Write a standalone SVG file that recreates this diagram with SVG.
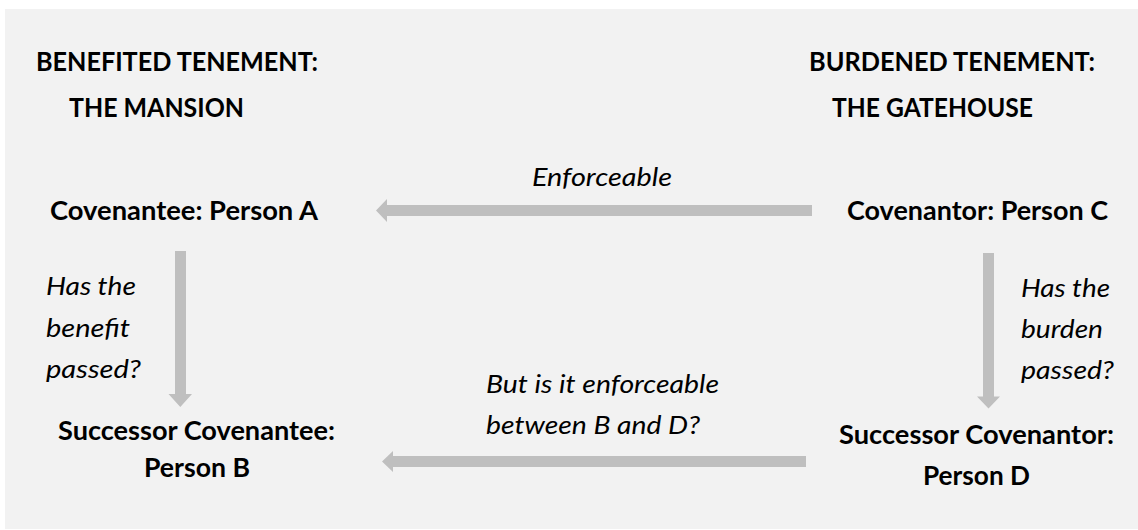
<svg xmlns="http://www.w3.org/2000/svg" width="1138" height="530" viewBox="0 0 1138 530">
<style>
.b{font-family:Lato,"Open Sans","Liberation Sans",sans-serif;font-weight:700;font-size:26px;fill:#000}
.i{font-family:Lato,"Open Sans","Liberation Sans",sans-serif;font-style:italic;font-size:26px;fill:#000}
.arr{fill:#bfbfbf}
</style>
<rect x="0" y="0" width="1138" height="530" fill="#ffffff"/>
<rect x="5" y="9" width="1133" height="520" fill="#f2f2f2"/>
<g id="benefited-tenement">
<text class="b" x="36" y="70.5" textLength="282" lengthAdjust="spacingAndGlyphs">BENEFITED TENEMENT:</text>
<text class="b" x="69" y="116.5" textLength="175" lengthAdjust="spacingAndGlyphs">THE MANSION</text>
</g>
<g id="burdened-tenement">
<text class="b" x="809" y="70.5" textLength="286" lengthAdjust="spacingAndGlyphs">BURDENED TENEMENT:</text>
<text class="b" x="832" y="116.5" textLength="201" lengthAdjust="spacingAndGlyphs">THE GATEHOUSE</text>
</g>
<g id="person-a">
<text class="b" x="50" y="220" textLength="268" lengthAdjust="spacingAndGlyphs">Covenantee: Person A</text>
</g>
<g id="person-c">
<text class="b" x="847" y="220" textLength="261" lengthAdjust="spacingAndGlyphs">Covenantor: Person C</text>
</g>
<g id="person-b">
<text class="b" x="58" y="440" textLength="277" lengthAdjust="spacingAndGlyphs">Successor Covenantee:</text>
<text class="b" x="144" y="477" textLength="106" lengthAdjust="spacingAndGlyphs">Person B</text>
</g>
<g id="person-d">
<text class="b" x="839" y="444" textLength="275" lengthAdjust="spacingAndGlyphs">Successor Covenantor:</text>
<text class="b" x="923" y="485" textLength="107" lengthAdjust="spacingAndGlyphs">Person D</text>
</g>
<g id="connectors">
<polygon class="arr" points="812,205 387,205 387,199 376,210.5 387,222 387,216 812,216"/>
<polygon class="arr" points="175,251 186,251 186,394 192,394 180.3,407 168.5,394 175,394"/>
<polygon class="arr" points="983,253 994,253 994,396.5 1000,396.5 988.5,408.5 977,396.5 983,396.5"/>
<polygon class="arr" points="806,456 393,456 393,451 382,461.5 393,472 393,467 806,467"/>
</g>
<g id="connector-labels">
<text class="i" x="532" y="186" textLength="140" lengthAdjust="spacingAndGlyphs">Enforceable</text>
<text class="i" x="46" y="295" textLength="90" lengthAdjust="spacingAndGlyphs">Has the</text>
<text class="i" x="46" y="337" textLength="84" lengthAdjust="spacingAndGlyphs">benefit</text>
<text class="i" x="46" y="378" textLength="95" lengthAdjust="spacingAndGlyphs">passed?</text>
<text class="i" x="1021" y="296.5" textLength="89" lengthAdjust="spacingAndGlyphs">Has the</text>
<text class="i" x="1021" y="338" textLength="82" lengthAdjust="spacingAndGlyphs">burden</text>
<text class="i" x="1021" y="379" textLength="93" lengthAdjust="spacingAndGlyphs">passed?</text>
<text class="i" x="486" y="393" textLength="233" lengthAdjust="spacingAndGlyphs">But is it enforceable</text>
<text class="i" x="486" y="434" textLength="214" lengthAdjust="spacingAndGlyphs">between B and D?</text>
</g>
</svg>
